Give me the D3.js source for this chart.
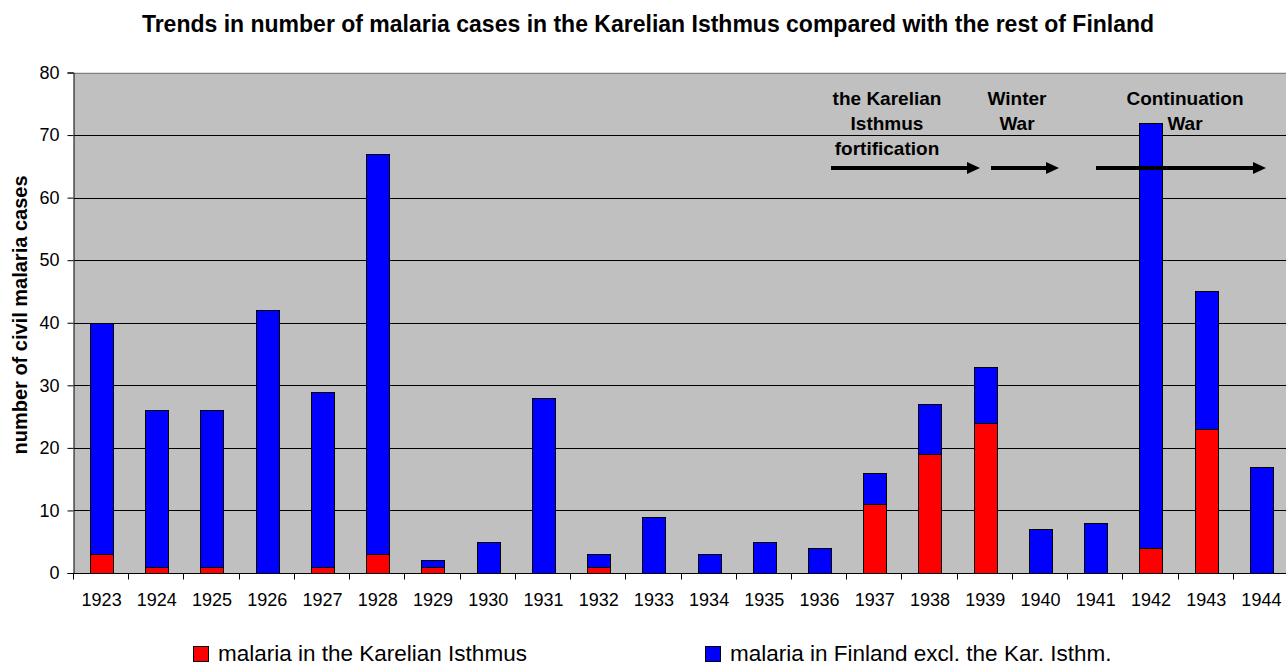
<!DOCTYPE html>
<html>
<head>
<meta charset="utf-8">
<script src="https://cdn.jsdelivr.net/npm/d3@7"></script>
<style>
  html, body { margin: 0; padding: 0; background: #fff; }
  svg { display: block; font-family: "Liberation Sans", Arial, sans-serif; }
</style>
</head>
<body>
<svg id="chart" width="1286" height="666"></svg>
<script>
const years = ["1923","1924","1925","1926","1927","1928","1929","1930","1931","1932","1933","1934","1935","1936","1937","1938","1939","1940","1941","1942","1943","1944"];
const karelian = [3,1,1,0,1,3,1,0,0,1,0,0,0,0,11,19,24,0,0,4,23,0];
const restOfFinland = [37,25,25,42,28,64,1,5,28,2,9,3,5,4,5,8,9,7,8,68,22,17];
const yTicks = [0,10,20,30,40,50,60,70,80];
const seriesNames = ["malaria in the Karelian Isthmus", "malaria in Finland excl. the Kar. Isthm."];
const seriesColors = ["#FF0000", "#0000FF"];
const titleText = "Trends in number of malaria cases in the Karelian Isthmus compared with the rest of Finland";
const yLabel = "number of civil malaria cases";
const periods = [
  ["the Karelian", "Isthmus", "fortification"],
  ["Winter", "War"],
  ["Continuation", "War"]
];

(function () {
const svg = d3.select("#chart");
const pLeft = 74, pRight = 1289, pTop = 72.5, pBottom = 573;

const x = d3.scaleBand().domain(years).range([pLeft, pRight]).paddingInner(0.58).paddingOuter(0.29);
const y = d3.scaleLinear().domain([0, 80]).range([pBottom, pTop]);

// plot background
svg.append("rect").attr("x", pLeft).attr("y", pTop).attr("width", pRight - pLeft).attr("height", pBottom - pTop).attr("fill", "#C0C0C0");

// gridlines
svg.append("g").selectAll("line").data(yTicks.filter(d => d > 0 && d < 80)).join("line")
  .attr("x1", pLeft).attr("x2", pRight)
  .attr("y1", d => Math.round(y(d)) + 0.5).attr("y2", d => Math.round(y(d)) + 0.5)
  .attr("stroke", "#000").attr("stroke-width", 1);
svg.append("line").attr("x1", pLeft).attr("x2", pRight).attr("y1", Math.round(y(80)) + 0.5).attr("y2", Math.round(y(80)) + 0.5)
  .attr("stroke", "#808080").attr("stroke-width", 1);

// stacked bars
const rows = years.map((yr, i) => ({year: yr, k: karelian[i], r: restOfFinland[i]}));
const stacked = d3.stack().keys(["k", "r"])(rows);
const barG = svg.append("g");
stacked.forEach((layer, li) => {
  barG.selectAll(null).data(layer.filter(d => d[1] - d[0] > 0)).join("rect")
    .attr("x", d => Math.round(x(d.data.year)) + 0.5)
    .attr("width", Math.round(x.bandwidth()))
    .attr("y", d => Math.round(y(d[1])) + 0.5)
    .attr("height", d => Math.round(y(d[0])) - Math.round(y(d[1])))
    .attr("fill", seriesColors[li])
    .attr("stroke", "#000").attr("stroke-width", 1);
});

// annotations
const annG = svg.append("g");
const annFont = 19;
const annCenters = [887, 1017, 1185];
const arrowY = 168;
periods.forEach((lines, i) => {
  lines.forEach((t, j) => {
    annG.append("text").attr("x", annCenters[i]).attr("y", 105 + j * 25)
      .attr("text-anchor", "middle").attr("font-size", annFont).attr("font-weight", "bold").text(t);
  });
});
const arrowX = [[831, 980], [991, 1059], [1096, 1266]];
arrowX.forEach(([a, b]) => {
  annG.append("line").attr("x1", a).attr("x2", b - 10).attr("y1", arrowY).attr("y2", arrowY)
    .attr("stroke", "#000").attr("stroke-width", 4);
  annG.append("path").attr("d", `M${b - 13},${arrowY - 6}L${b},${arrowY}L${b - 13},${arrowY + 6}Z`).attr("fill", "#000");
});

// y axis
const yAxis = d3.axisLeft(y).tickValues(yTicks).tickSize(6).tickPadding(8).tickFormat(d3.format("d"));
const yg = svg.append("g").attr("transform", `translate(${pLeft - 0.5},0)`).call(yAxis);
yg.select(".domain").attr("stroke", "#000");
yg.selectAll(".tick line").attr("stroke", "#000");
yg.selectAll("text").attr("font-size", 18).attr("font-family", "Liberation Sans, Arial, sans-serif").attr("fill", "#000");

// x axis
const xAxis = d3.axisBottom(x).tickSize(0).tickPadding(20);
const xg = svg.append("g").attr("transform", `translate(0,${pBottom + 0.5})`).call(xAxis);
xg.select(".domain").attr("stroke", "#000").attr("d", `M${pLeft},0H${pRight}`);
xg.selectAll("text").attr("font-size", 18).attr("font-family", "Liberation Sans, Arial, sans-serif").attr("fill", "#000");
const gap = x.step() * x.paddingInner() / 2;
const bounds = years.map(yr => x(yr) - gap).concat([x(years[years.length - 1]) + x.bandwidth() + gap]);
xg.selectAll(".bound").data(bounds).join("line").attr("class", "bound")
  .attr("x1", d => Math.round(d) - 0.5).attr("x2", d => Math.round(d) - 0.5)
  .attr("y1", 0).attr("y2", 6).attr("stroke", "#000");

// title
svg.append("text").attr("x", 648).attr("y", 32).attr("text-anchor", "middle")
  .attr("font-size", 23).attr("font-weight", "bold").text(titleText);

// y label
svg.append("text").attr("transform", `translate(27,315) rotate(-90)`)
  .attr("text-anchor", "middle").attr("font-size", 20).attr("font-weight", "bold").text(yLabel);

// legend
const legX = [193, 705];
seriesNames.forEach((n, i) => {
  svg.append("rect").attr("x", legX[i] + 0.5).attr("y", 646.5).attr("width", 15).attr("height", 15)
    .attr("fill", seriesColors[i]).attr("stroke", "#000");
  svg.append("text").attr("x", legX[i] + 25).attr("y", 661).attr("font-size", 22.5).text(n);
});
})();
</script>
</body>
</html>
